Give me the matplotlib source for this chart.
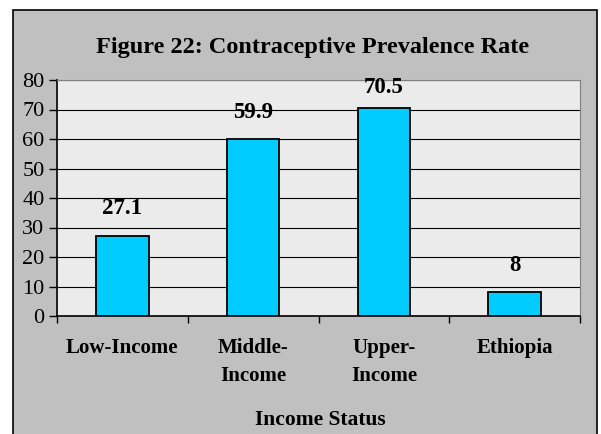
import numpy as np
import matplotlib.pyplot as plt
from matplotlib.patches import Rectangle

categories = ["Low-Income", "Middle-\nIncome", "Upper-\nIncome", "Ethiopia"]
values = [27.1, 59.9, 70.5, 8]
yticks = [0, 10, 20, 30, 40, 50, 60, 70, 80]

plt.rcParams['font.family'] = ['Liberation Serif', 'DejaVu Serif']

W, H = 601, 434
fig = plt.figure(figsize=(W/100, H/100), dpi=100)
fig.patch.set_facecolor('white')

# grey chart panel with black frame
fig.patches.append(Rectangle((13/W, -0.02), 584/W, 1 - 10/H + 0.02,
                             transform=fig.transFigure, facecolor='#C0C0C0',
                             edgecolor='black', linewidth=1.2, zorder=-5))

ax = fig.add_axes([57/W, 1 - 316/H, (580-57)/W, (316-80)/H])
ax.set_zorder(2)
ax.set_facecolor('#EBEBEB')

x = np.arange(len(values))
ax.bar(x, values, width=0.4, color='#00CCFF', edgecolor='black', linewidth=1.3, zorder=3)

for xi, v in zip(x, values):
    ax.text(xi, min(v + 9.2, 77.3), f"{v:g}", ha='center', va='center',
            fontsize=16.5, fontweight='bold', zorder=4)

ax.set_xlim(-0.5, len(values) - 0.5)
ax.set_ylim(0, 80)
ax.set_yticks(yticks)
ax.set_yticklabels([str(t) for t in yticks], fontsize=16)
ax.tick_params(axis='y', direction='out', length=6, width=1, pad=3)
ax.yaxis.grid(True, color='black', linewidth=0.8)
ax.set_axisbelow(True)

ax.set_xticks(x)
ax.set_xticklabels(categories, fontsize=15, fontweight='bold', linespacing=1.5, va='top')
ax.tick_params(axis='x', which='major', length=0, pad=16)
ax.set_xticks(np.arange(-0.5, len(values)), minor=True)
ax.tick_params(axis='x', which='minor', direction='out', length=5, width=1)

for s in ['top', 'right']:
    ax.spines[s].set_color('#808080')
for s in ['left', 'bottom']:
    ax.spines[s].set_color('black')
    ax.spines[s].set_linewidth(1.2)

fig.text(313/W, 1 - 47/H, "Figure 22: Contraceptive Prevalence Rate",
         ha='center', va='center', fontsize=17.5, fontweight='bold')
fig.text(320/W, 1 - 420/H, "Income Status", ha='center', va='center',
         fontsize=15.5, fontweight='bold')

fig.savefig("out.png", dpi=100)
